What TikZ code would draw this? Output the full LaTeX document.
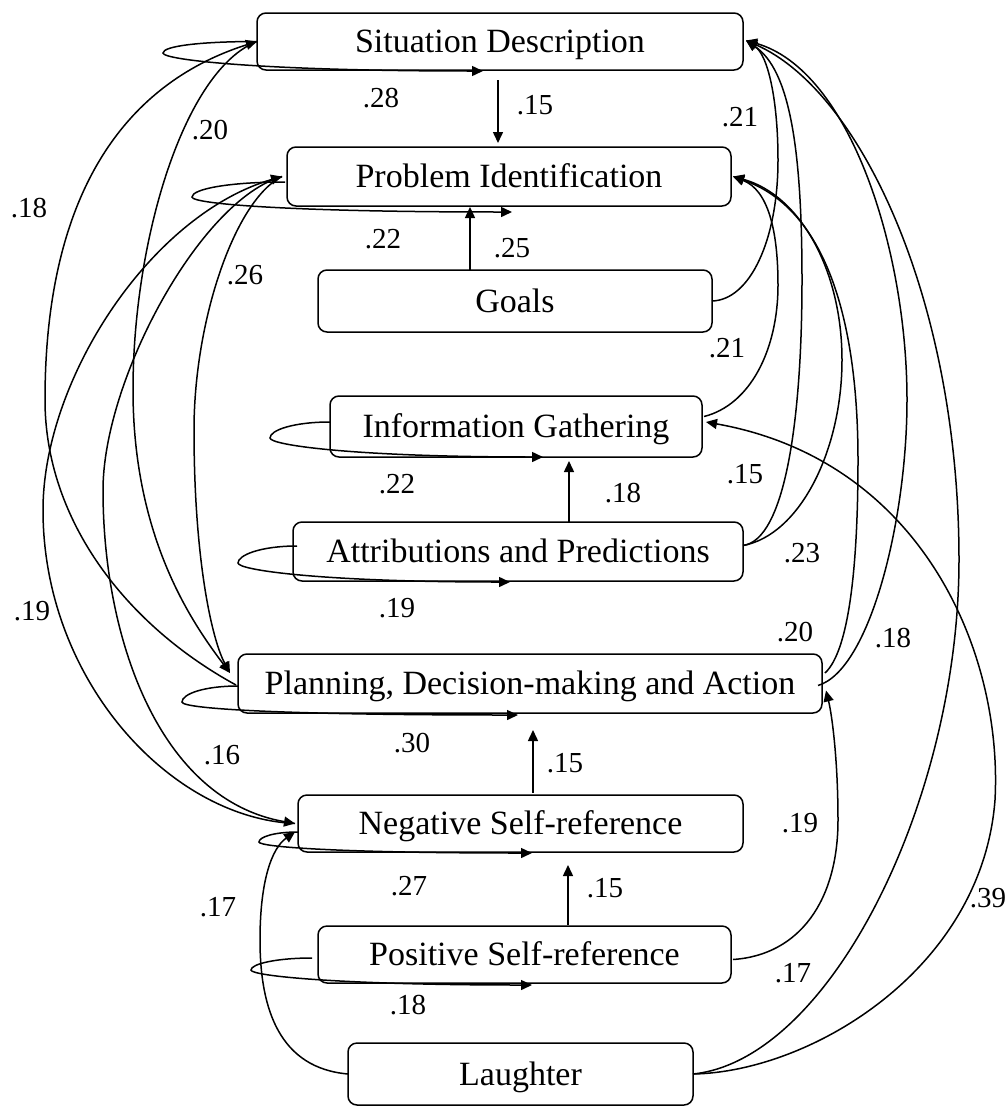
\documentclass[tikz,border=0pt]{standalone}
\usepackage{fontspec}
\setmainfont{Liberation Serif}
\usetikzlibrary{arrows.meta}
\begin{document}
\begin{tikzpicture}[x=1pt,y=-1pt,
  box/.style={draw, line width=1.5pt, rounded corners=9pt, inner sep=0pt, outer sep=0pt,
    font=\fontsize{34}{40}\selectfont, text height=27pt, text depth=4.6pt},
  lab/.style={font=\fontsize{29}{34}\selectfont, inner sep=0pt},
  link/.style={line width=1.5pt, -{Triangle[length=11pt,width=10pt]}}
]
\fill[white] (0,0) rectangle (1007,1106);
\useasboundingbox (0,0) rectangle (1007,1106);

% states
\node[box, minimum width=486pt, minimum height=57pt] (sd)    at (500,41.5)   {Situation Description};
\node[box, minimum width=444pt, minimum height=59pt] (pi)    at (509,176.5)  {Problem Identification};
\node[box, minimum width=394pt, minimum height=62pt] (goals) at (515,301)    {Goals};
\node[box, minimum width=372pt, minimum height=61pt] (ig)    at (516,426.5)  {Information Gathering};
\node[box, minimum width=450pt, minimum height=59pt] (ap)    at (518,551.5)  {Attributions and Predictions};
\node[box, minimum width=584pt, minimum height=59pt] (pl)    at (530,683.5)  {Planning, Decision-making and Action};
\node[box, minimum width=445pt, minimum height=57pt] (nsr)   at (520.5,823.5){Negative Self-reference};
\node[box, minimum width=413pt, minimum height=57pt] (psr)   at (524.5,954.5){Positive Self-reference};
\node[box, minimum width=345pt, minimum height=62pt] (la)    at (520.5,1074) {Laughter};

% straight transitions
\draw[link] ([shift={(-2,10)}]sd.south) -- ([shift={(-11,-4)}]pi.north);
\draw[link] ([shift={(-45,0)}]goals.north) -- ([shift={(-39,1)}]pi.south);
\draw[link] ([shift={(51,0)}]ap.north) -- ([shift={(53,4)}]ig.south);
\draw[link] ([shift={(12.5,-2)}]nsr.north) -- ([shift={(3,17)}]pl.south);
\draw[link] ([shift={(43.5,-1)}]psr.north) -- ([shift={(47.5,13)}]nsr.south);

% repeats of the same state
\draw[link] (sd.west) .. controls +(-56,0) and +(0,-7) .. (163,53)
  .. controls +(0,7) and +(-220,0) .. ([shift={(-17,1)}]sd.south);
\draw[link] ([shift={(-2,5.5)}]pi.west) .. controls +(-56,0) and +(0,-8) .. (192,197)
  .. controls +(0,7) and +(-220,0) .. ([shift={(3,6)}]pi.south);
\draw[link] ([shift={(0,-4.5)}]ig.west) .. controls +(-36,0) and +(0,-8) .. (270,438)
  .. controls +(0,7) and +(-190,0) .. ([shift={(27,0)}]ig.south);
\draw[link] ([shift={(4,-5.5)}]ap.west) .. controls +(-36,0) and +(0,-8) .. (238,563)
  .. controls +(0,7) and +(-190,0) .. ([shift={(-8,1)}]ap.south);
\draw[link] ([shift={(0,2.5)}]pl.west) .. controls +(-34,0) and +(0,-8) .. (182,702)
  .. controls +(0,7) and +(-230,0) .. ([shift={(-12,2)}]pl.south);
\draw[link] ([shift={(0,8.5)}]nsr.west) .. controls +(-24,0) and +(0,-5) .. (259,842)
  .. controls +(0,5) and +(-190,0) .. ([shift={(11.5,1)}]nsr.south);
\draw[link] ([shift={(-6,3.5)}]psr.west) .. controls +(-36,0) and +(0,-6) .. (251,970)
  .. controls +(0,6) and +(-190,0) .. ([shift={(7.5,2)}]psr.south);

% long transitions on the left
\draw[link] ([shift={(-2,1.5)}]pl.west) .. controls (126,625) and (45,520) .. (45,400)
  .. controls (45,200) and (120,85) .. (sd.west);
\draw[link] (sd.west) .. controls (184,70) and (133,240) .. (133,390)
  .. controls (133,540) and (194,625) .. ([shift={(-8,-10.5)}]pl.west);
\draw[link] ([shift={(-5,0)}]pi.west) .. controls (235,200) and (194,320) .. (194,430)
  .. controls (194,560) and (212,640) .. ([shift={(-8,-10.5)}]pl.west);
\draw[link] ([shift={(-3,0)}]nsr.west) .. controls (170,818) and (43,680) .. (43,510)
  .. controls (43,380) and (150,215) .. ([shift={(-5,0)}]pi.west);
\draw[link] ([shift={(-5,0)}]pi.west) .. controls (200,200) and (103,380) .. (103,490)
  .. controls (103,640) and (160,800) .. ([shift={(-3,0)}]nsr.west);
\draw[link] (la.west) .. controls (280,1068) and (260,1010) .. (260,940)
  .. controls (260,880) and (272,848) .. ([shift={(-3,8.5)}]nsr.west);

% long transitions on the right
\draw[link] (goals.east) .. controls (750,300) and (778,240) .. (778,160)
  .. controls (778,100) and (768,55) .. ([shift={(3,-1)}]sd.east);
\draw[link] ([shift={(2,-10)}]ig.east) .. controls (750,405) and (778,350) .. (778,285)
  .. controls (778,230) and (768,190) .. ([shift={(2,0)}]pi.east);
\draw[link] ([shift={(0,-6)}]ap.east) .. controls (785,540) and (802,420) .. (802,280)
  .. controls (802,150) and (790,70) .. ([shift={(3,-1)}]sd.east);
\draw[link] ([shift={(0,-6)}]ap.east) .. controls (800,535) and (842,450) .. (842,360)
  .. controls (842,270) and (800,195) .. ([shift={(2,0)}]pi.east);
\draw[link] ([shift={(3,-10.5)}]pl.east) .. controls (850,650) and (858,560) .. (858,460)
  .. controls (858,330) and (830,210) .. ([shift={(2,0)}]pi.east);
\draw[link] ([shift={(-4,2)}]pl.east) .. controls (870,670) and (907,520) .. (907,400)
  .. controls (907,250) and (850,70) .. ([shift={(3,-1)}]sd.east);
\draw[link] ([shift={(2,5)}]psr.east) .. controls (800,955) and (838,900) .. (838,820)
  .. controls (838,760) and (832,715) .. ([shift={(4,7)}]pl.east);
\draw[link] (la.east) .. controls (830,1060) and (959,800) .. (959,560)
  .. controls (959,300) and (860,90) .. ([shift={(3,-1)}]sd.east);
\draw[link] (la.east) .. controls (810,1072) and (982,970) .. (995,800)
  .. controls (1003,650) and (920,460) .. ([shift={(4,-4.5)}]ig.east);

% transition probabilities
\node[lab] (l28)  at (381,98)   {.28};
\node[lab] (l15a) at (535,105)  {.15};
\node[lab] (l21a) at (740,117)  {.21};
\node[lab] (l20a) at (210,130)  {.20};
\node[lab] (l18a) at (29,208)   {.18};
\node[lab] (l22a) at (383,239)  {.22};
\node[lab] (l25)  at (512,248)  {.25};
\node[lab] (l26)  at (245,275)  {.26};
\node[lab] (l21b) at (727,348)  {.21};
\node[lab] (l15b) at (745,474)  {.15};
\node[lab] (l22b) at (397,484)  {.22};
\node[lab] (l18b) at (623,493)  {.18};
\node[lab] (l23)  at (802,553)  {.23};
\node[lab] (l19a) at (397,608)  {.19};
\node[lab] (l19b) at (32,611)   {.19};
\node[lab] (l20b) at (795,632)  {.20};
\node[lab] (l18c) at (893,638)  {.18};
\node[lab] (l30)  at (412,743)  {.30};
\node[lab] (l16)  at (222,755)  {.16};
\node[lab] (l15c) at (565,763)  {.15};
\node[lab] (l19c) at (800,823)  {.19};
\node[lab] (l27)  at (409,886)  {.27};
\node[lab] (l15d) at (605,888)  {.15};
\node[lab] (l17a) at (218,907)  {.17};
\node[lab] (l39)  at (988,898)  {.39};
\node[lab] (l17b) at (793,973)  {.17};
\node[lab] (l18d) at (408,1005) {.18};
\end{tikzpicture}
\end{document}
